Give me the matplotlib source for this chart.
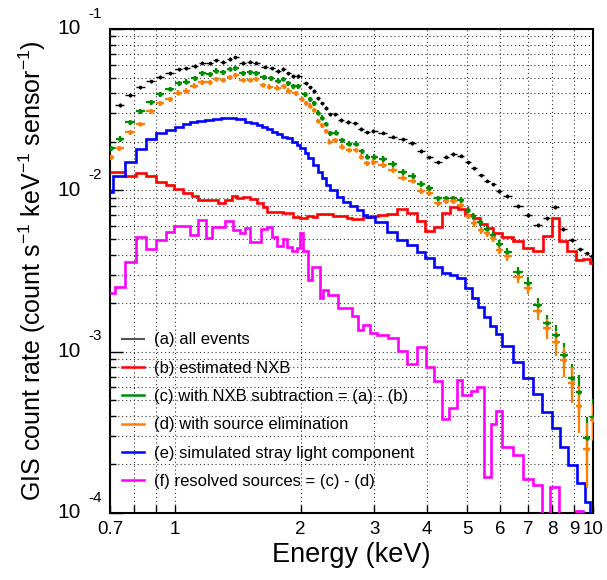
import numpy as np
import matplotlib
matplotlib.use("Agg")
import matplotlib.pyplot as plt
from matplotlib.lines import Line2D
from matplotlib.ticker import FixedLocator, FixedFormatter, NullFormatter, NullLocator, LogLocator

plt.rcParams["font.family"] = ["Liberation Sans", "DejaVu Sans"]
plt.rcParams["mathtext.fontset"] = "custom"
plt.rcParams["mathtext.rm"] = "Liberation Sans"
plt.rcParams["mathtext.it"] = "Liberation Sans:italic"

# ---------------------------------------------------------------------------
# Data (energy in keV, rate in count/s/keV/sensor)
# ---------------------------------------------------------------------------

# (a) all events
a_E = [0.738, 0.782, 0.827, 0.876, 0.923, 0.972, 1.022, 1.065, 1.116, 1.163,
       1.212, 1.256, 1.304, 1.353, 1.395, 1.455, 1.510, 1.564, 1.643, 1.705,
       1.768, 1.817, 1.868, 1.920, 1.974, 2.059, 2.105, 2.156, 2.203, 2.245,
       2.299, 2.350, 2.415, 2.493, 2.599, 2.697, 2.788, 2.886, 2.983, 3.142,
       3.319, 3.507, 3.698, 3.878, 4.060, 4.266, 4.451, 4.634, 4.827, 5.017,
       5.202, 5.387, 5.587, 5.774, 5.960, 6.218, 6.627, 7.000, 7.373, 7.749,
       8.111, 8.490, 8.921, 9.309, 9.658, 9.927]
a_rate = [0.0338, 0.0390, 0.0435, 0.0474, 0.0506, 0.0531, 0.0563, 0.0571, 0.0592, 0.0618,
          0.0613, 0.0640, 0.0624, 0.0652, 0.0668, 0.0618, 0.0627, 0.0618, 0.0584, 0.0571,
          0.0551, 0.0565, 0.0531, 0.0511, 0.0511, 0.0460, 0.0435, 0.0414, 0.0372, 0.0346,
          0.0325, 0.0296, 0.0296, 0.0273, 0.0266, 0.0260, 0.0240, 0.0229, 0.0233, 0.0228,
          0.0215, 0.0207, 0.0196, 0.0175, 0.0160, 0.0149, 0.0162, 0.0168, 0.0164, 0.0149,
          0.0137, 0.0124, 0.0115, 0.0109, 0.00994, 0.00926, 0.00799, 0.00703, 0.00612, 0.00671,
          0.00791, 0.00576, 0.00492, 0.00431, 0.00407, 0.00393]

# (c) with NXB subtraction
c_E = [0.702, 0.738, 0.782, 0.827, 0.876, 0.923, 0.972, 1.022, 1.065, 1.116,
       1.163, 1.212, 1.256, 1.304, 1.353, 1.395, 1.455, 1.510, 1.564, 1.634,
       1.696, 1.768, 1.817, 1.868, 1.920, 1.974, 2.048, 2.105, 2.151, 2.203,
       2.245, 2.299, 2.350, 2.429, 2.506, 2.614, 2.713, 2.798, 2.886, 2.994,
       3.142, 3.319, 3.507, 3.702, 3.878, 4.060, 4.266, 4.451, 4.634, 4.827,
       5.017, 5.174, 5.367, 5.569, 5.755, 5.960, 6.245, 6.627, 7.000, 7.373,
       7.749, 8.155, 8.533, 8.892, 9.258, 9.658, 10.0]
c_rate = [0.0182, 0.0208, 0.0264, 0.0310, 0.0351, 0.0395, 0.0425, 0.0460, 0.0471, 0.0495,
          0.0531, 0.0524, 0.0551, 0.0539, 0.0565, 0.0571, 0.0531, 0.0539, 0.0530, 0.0502,
          0.0495, 0.0478, 0.0490, 0.0460, 0.0443, 0.0443, 0.0394, 0.0367, 0.0346, 0.0303,
          0.0282, 0.0258, 0.0226, 0.0228, 0.0205, 0.0194, 0.0194, 0.0175, 0.0162, 0.0162,
          0.0156, 0.0146, 0.0130, 0.0123, 0.0110, 0.0104, 0.00892, 0.00892, 0.00892, 0.00871,
          0.00755, 0.00693, 0.00633, 0.00576, 0.00528, 0.00465, 0.00412, 0.00310, 0.00265, 0.00194,
          0.00150, 0.00127, 0.000953, 0.000683, 0.000564, 0.000290, 0.000395]
c_relerr = [0.04, 0.04, 0.035, 0.035, 0.035, 0.035, 0.035, 0.035, 0.035, 0.035,
            0.035, 0.035, 0.035, 0.035, 0.035, 0.035, 0.035, 0.035, 0.035, 0.035,
            0.035, 0.035, 0.035, 0.035, 0.035, 0.035, 0.035, 0.035, 0.035, 0.035,
            0.035, 0.035, 0.035, 0.035, 0.035, 0.035, 0.035, 0.035, 0.04, 0.04,
            0.04, 0.04, 0.04, 0.04, 0.04, 0.04, 0.04, 0.04, 0.04, 0.04,
            0.045, 0.045, 0.05, 0.05, 0.05, 0.055, 0.06, 0.08, 0.09, 0.11,
            0.13, 0.15, 0.19, 0.22, 0.27, 0.35, 0.29]

# (d) with source elimination
d_E = [0.702, 0.735, 0.782, 0.827, 0.876, 0.923, 0.972, 1.018, 1.065, 1.111,
       1.163, 1.212, 1.252, 1.304, 1.353, 1.395, 1.455, 1.510, 1.564, 1.628,
       1.682, 1.760, 1.827, 1.868, 1.944, 2.011, 2.059, 2.105, 2.151, 2.203,
       2.245, 2.299, 2.341, 2.415, 2.506, 2.614, 2.713, 2.788, 2.886, 2.983,
       3.142, 3.319, 3.507, 3.702, 3.878, 4.060, 4.266, 4.451, 4.634, 4.827,
       5.017, 5.193, 5.387, 5.587, 5.755, 5.960, 6.245, 6.627, 7.000, 7.373,
       7.749, 8.155, 8.523, 8.892, 9.258, 9.658, 10.0]
d_rate = [0.0160, 0.0182, 0.0229, 0.0258, 0.0310, 0.0346, 0.0368, 0.0403, 0.0414, 0.0445,
          0.0467, 0.0467, 0.0490, 0.0483, 0.0502, 0.0519, 0.0483, 0.0483, 0.0490, 0.0450,
          0.0439, 0.0433, 0.0443, 0.0414, 0.0399, 0.0367, 0.0346, 0.0335, 0.0315, 0.0269,
          0.0254, 0.0233, 0.0200, 0.0205, 0.0186, 0.0178, 0.0178, 0.0162, 0.0147, 0.0150,
          0.0144, 0.0134, 0.0120, 0.0115, 0.00990, 0.00966, 0.00830, 0.00858, 0.00862, 0.00811,
          0.00693, 0.00624, 0.00567, 0.00541, 0.00504, 0.00427, 0.00390, 0.00291, 0.00249, 0.00179,
          0.00140, 0.00114, 0.000887, 0.000639, 0.000463, 0.000251, 0.000377]
d_relerr = [0.04, 0.04, 0.035, 0.035, 0.035, 0.035, 0.035, 0.035, 0.035, 0.035,
            0.035, 0.035, 0.035, 0.035, 0.035, 0.035, 0.035, 0.035, 0.035, 0.035,
            0.035, 0.035, 0.035, 0.035, 0.035, 0.035, 0.035, 0.035, 0.035, 0.035,
            0.035, 0.035, 0.035, 0.035, 0.035, 0.035, 0.035, 0.035, 0.04, 0.04,
            0.04, 0.04, 0.04, 0.04, 0.04, 0.04, 0.04, 0.04, 0.04, 0.04,
            0.045, 0.045, 0.05, 0.05, 0.05, 0.055, 0.06, 0.08, 0.09, 0.12,
            0.14, 0.17, 0.21, 0.25, 0.32, 0.43, 0.25]

# (b) estimated NXB (histogram)
b_edges = [0.700, 0.760, 0.806, 0.852, 0.900, 0.951, 0.995, 1.048, 1.097, 1.136,
           1.268, 1.318, 1.370, 1.408, 1.455, 1.512, 1.572, 1.625, 1.661, 1.814,
           1.917, 1.992, 2.071, 2.140, 2.188, 2.389, 2.580, 2.652, 2.818, 2.930,
           3.061, 3.216, 3.398, 3.591, 3.787, 3.965, 4.166, 4.360, 4.550, 4.763,
           4.942, 5.174, 5.367, 5.569, 5.774, 6.048, 6.448, 6.812, 7.197, 7.604,
           7.964, 8.292, 8.665, 9.106, 9.462, 9.835, 10.0]
b_rate = [0.01293, 0.01232, 0.01285, 0.01227, 0.01130, 0.01079, 0.01014, 0.00966, 0.00922, 0.00871,
          0.00834, 0.00871, 0.00922, 0.00896, 0.00909, 0.00884, 0.00834, 0.00788, 0.00734, 0.00723,
          0.00683, 0.00673, 0.00693, 0.00683, 0.00713, 0.00693, 0.00673, 0.00664, 0.00683, 0.00693,
          0.00703, 0.00713, 0.00766, 0.00723, 0.00648, 0.00562, 0.00595, 0.00720, 0.00791, 0.00766,
          0.00703, 0.00671, 0.00618, 0.00581, 0.00546, 0.00516, 0.00487, 0.00437, 0.00422, 0.00521,
          0.00671, 0.00485, 0.00420, 0.00370, 0.00375, 0.00354]

# (e) simulated stray light component (histogram)
e_edges = [0.700, 0.712, 0.760, 0.808, 0.853, 0.902, 0.953, 0.999, 1.046, 1.085,
           1.132, 1.179, 1.234, 1.291, 1.340, 1.403, 1.469, 1.524, 1.570, 1.613,
           1.658, 1.705, 1.752, 1.801, 1.851, 1.903, 1.956, 1.992, 2.048, 2.086,
           2.144, 2.203, 2.245, 2.299, 2.350, 2.442, 2.524, 2.624, 2.727, 2.818,
           2.881, 3.011, 3.216, 3.398, 3.591, 3.787, 3.965, 4.166, 4.346, 4.550,
           4.729, 4.942, 5.136, 5.309, 5.487, 5.672, 5.852, 6.048, 6.426, 6.812,
           7.174, 7.562, 7.964, 8.337, 8.713, 9.156, 9.568, 9.835, 10.0]
e_rate = [0.00976, 0.0123, 0.0150, 0.0180, 0.0208, 0.0226, 0.0237, 0.0248, 0.0258, 0.0264,
          0.0269, 0.0273, 0.0277, 0.0280, 0.0280, 0.0275, 0.0266, 0.0261, 0.0254, 0.0246,
          0.0239, 0.0231, 0.0223, 0.0215, 0.0210, 0.0200, 0.0191, 0.0182, 0.0170, 0.0158,
          0.0144, 0.0130, 0.0119, 0.0108, 0.0100, 0.00909, 0.00846, 0.00799, 0.00755, 0.00703,
          0.00683, 0.00636, 0.00551, 0.00492, 0.00458, 0.00416, 0.00379, 0.00336, 0.00307, 0.00298,
          0.00286, 0.00248, 0.00215, 0.00188, 0.00165, 0.00144, 0.00129, 0.00109, 0.000866, 0.000689,
          0.000543, 0.000424, 0.000336, 0.000256, 0.000198, 0.000153, 0.000117, 0.00009]

# (f) resolved sources (histogram)
f_edges = [0.700, 0.719, 0.760, 0.808, 0.853, 0.902, 0.953, 0.995, 1.087, 1.136,
           1.187, 1.227, 1.318, 1.377, 1.432, 1.472, 1.512, 1.607, 1.661, 1.707,
           1.755, 1.814, 1.854, 1.906, 1.960, 1.992, 2.025, 2.082, 2.128, 2.224,
           2.264, 2.327, 2.459, 2.652, 2.742, 2.818, 2.930, 3.044, 3.234, 3.417,
           3.591, 3.794, 3.986, 4.166, 4.353, 4.524, 4.729, 4.866, 5.108, 5.279,
           5.487, 5.696, 5.861, 6.059, 6.437, 6.800, 7.187, 7.551, 7.891, 8.292,
           9.106, 9.462, 10.0]
f_rate = [0.00231, 0.00251, 0.00359, 0.00513, 0.00433, 0.00492, 0.00551, 0.00601, 0.00528, 0.00655,
          0.00506, 0.00592, 0.00645, 0.00567, 0.00544, 0.00584, 0.00478, 0.00576, 0.00592, 0.00513,
          0.00452, 0.00499, 0.00445, 0.00420, 0.00439, 0.00544, 0.00420, 0.00278, 0.00335, 0.00215,
          0.00241, 0.00224, 0.00186, 0.00166, 0.00136, 0.00146, 0.00130, 0.00127, 0.00121, 0.00101,
          0.000837, 0.00107, 0.000802, 0.000657, 0.000382, 0.000447, 0.000667, 0.000538, 0.000570, 0.000603,
          0.000167, 0.000356, 0.000428, 0.000256, 0.000229, 0.000162, 0.000149, 0.00003, 0.000145, 0.00003,
          0.000103, 0.00003]

labels = ["(a) all events",
          "(b) estimated NXB",
          "(c) with NXB subtraction = (a) - (b)",
          "(d) with source elimination",
          "(e) simulated stray light component",
          "(f) resolved sources = (c) - (d)"]

COL = {"a": "black", "b": "#ff0000", "c": "#008a00", "d": "#ff8000",
       "e": "#0000ff", "f": "#ff00ff"}


def bin_halfwidths(E, frac=0.45):
    """Horizontal error extents from the spacing of neighbouring bins."""
    logE = np.log10(E)
    gaps = np.diff(logE)
    left = np.r_[gaps[0], gaps]
    right = np.r_[gaps, gaps[-1]]
    E = np.asarray(E)
    return [E - 10 ** (logE - frac * left), 10 ** (logE + frac * right) - E]


fig = plt.figure(figsize=(6.07, 5.80), dpi=100)
ax = fig.add_axes([110 / 607, 67 / 580, 483 / 607, 484 / 580])
ax.set_xscale("log")
ax.set_yscale("log")

# step histograms (no baseline drop at the ends)
ax.stairs(b_rate, b_edges, baseline=None, color=COL["b"], lw=1.9, zorder=3)
ax.stairs(e_rate, e_edges, baseline=None, color=COL["e"], lw=1.9, zorder=3)
ax.stairs(f_rate, f_edges, baseline=None, color=COL["f"], lw=1.9, zorder=3)

# data points
for E, rate, rel, key in [(c_E, c_rate, c_relerr, "c"),
                          (d_E, d_rate, d_relerr, "d")]:
    r = np.asarray(rate)
    ax.errorbar(E, r, xerr=bin_halfwidths(E), yerr=r * np.asarray(rel),
                fmt="o", ms=2.2, color=COL[key], mec=COL[key], elinewidth=1.6,
                capsize=0, zorder=4)
a_r = np.asarray(a_rate)
ax.errorbar(a_E, a_r, xerr=bin_halfwidths(a_E), yerr=a_r * 0.025,
            fmt="o", ms=1.6, color="black", elinewidth=1.0, capsize=0, zorder=5)

ax.set_xlim(0.7, 10)
ax.set_ylim(1e-4, 1e-1)

# x ticks: ROOT-style labels
xt = [0.7, 0.8, 0.9, 1, 2, 3, 4, 5, 6, 7, 8, 9, 10]
xl = ["0.7", "", "", "1", "2", "3", "4", "5", "6", "7", "8", "9", "10"]
ax.xaxis.set_major_locator(FixedLocator(xt))
ax.xaxis.set_major_formatter(FixedFormatter(xl))
ax.xaxis.set_minor_locator(NullLocator())
ax.tick_params(axis="x", which="major", direction="in", length=6, width=1,
               labelsize=13.5, pad=6, top=False)

ax.yaxis.set_major_locator(LogLocator(base=10, numticks=10))
ax.yaxis.set_minor_locator(LogLocator(base=10, subs=np.arange(2, 10), numticks=20))
ax.yaxis.set_major_formatter(NullFormatter())
ax.yaxis.set_minor_formatter(NullFormatter())
ax.tick_params(axis="y", which="major", direction="in", length=9, width=1, right=False)
ax.tick_params(axis="y", which="minor", direction="in", length=4, width=1, right=False)

for exp in [-4, -3, -2, -1]:
    ax.text(-0.061, 10.0 ** exp, "10", transform=ax.get_yaxis_transform(),
            ha="right", va="center", fontsize=15)
    ax.annotate(str(exp), xy=(-0.044, 10.0 ** exp), xycoords=ax.get_yaxis_transform(),
                xytext=(0, 11), textcoords="offset points",
                ha="left", va="center", fontsize=11)

ax.grid(True, which="both", axis="both", color="#333333", lw=0.8,
        linestyle=(0, (1, 2.5)))
ax.set_axisbelow(True)
for sp in ax.spines.values():
    sp.set_linewidth(1.5)

ax.set_xlabel("Energy (keV)", fontsize=19.5, labelpad=3)
ax.set_ylabel(r"GIS count rate (count s$^{-1}$ keV$^{-1}$ sensor$^{-1}$)", fontsize=18)
ax.yaxis.set_label_coords(-0.128, 0.5)

handles = [Line2D([], [], color="#555555", lw=1.5),
           Line2D([], [], color=COL["b"], lw=1.8),
           Line2D([], [], color=COL["c"], lw=1.8),
           Line2D([], [], color=COL["d"], lw=1.8),
           Line2D([], [], color=COL["e"], lw=1.8),
           Line2D([], [], color=COL["f"], lw=1.8)]
ax.legend(handles, labels, loc="upper left", bbox_to_anchor=(0.024, 0.373),
          frameon=False, fontsize=12, handlelength=1.35, handletextpad=0.6,
          labelspacing=0.8, borderpad=0, borderaxespad=0)

fig.savefig("out.png", dpi=100)
